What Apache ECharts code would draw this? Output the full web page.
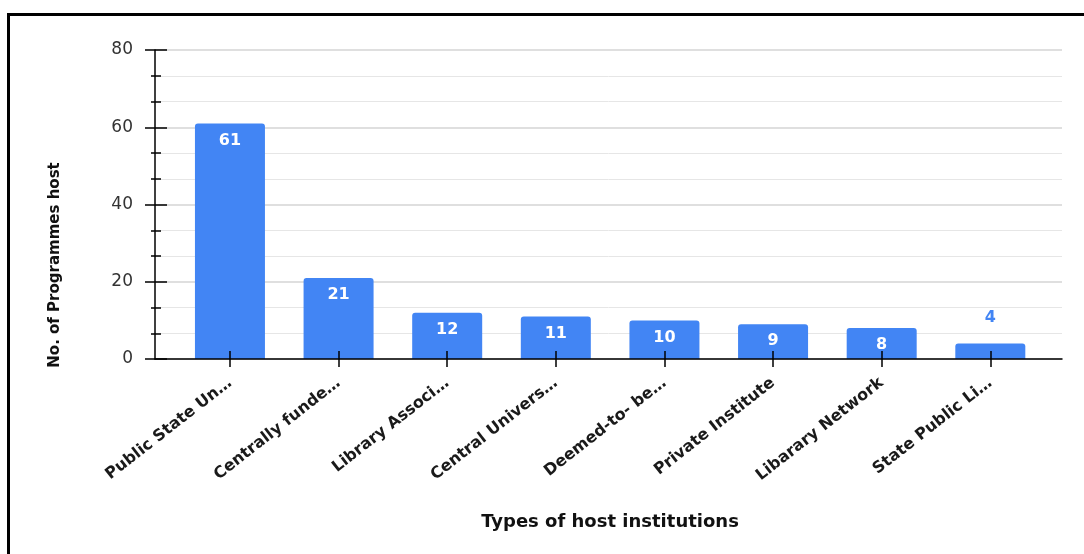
<!DOCTYPE html>
<html>
<head>
<meta charset="utf-8">
<script src="https://cdn.jsdelivr.net/npm/echarts@6/dist/echarts.min.js"></script>
<style>
  html, body { margin: 0; padding: 0; background: #fff; }
  #chart { width: 1084px; height: 554px; }
</style>
</head>
<body>
<div id="chart"></div>
<script>
// Host institution types (labels as shown, truncated) and programme counts
const categories = [
  'Public State Un…',
  'Centrally funde…',
  'Library Associ…',
  'Central Univers…',
  'Deemed-to- be…',
  'Private Institute',
  'Libarary Network',
  'State Public Li…'
];
const programmes = [61, 21, 12, 11, 10, 9, 8, 4];
const yTicks = [0, 20, 40, 60, 80];

const FONT = '"DejaVu Sans", Verdana, sans-serif';
const BLUE = '#4285F4';
const idx = categories.map((_, i) => i);

const chart = echarts.init(document.getElementById('chart'), null, { renderer: 'canvas' });

const barData = programmes.map((v, i) => {
  const item = { value: [i, v] };
  if (v < 6) {
    item.label = { position: 'top', distance: 18, color: BLUE };
  }
  return item;
});

const yCommon = {
  type: 'value',
  min: yTicks[0],
  max: yTicks[yTicks.length - 1],
  interval: yTicks[1] - yTicks[0]
};
const xCommon = {
  type: 'value',
  min: -0.69,
  max: categories.length - 1 + 0.66
};
const tickLine = { color: '#000', width: 1.5 };

chart.setOption({
  backgroundColor: '#fff',
  animation: false,
  grid: { left: 155, right: 22, top: 50, bottom: 195, containLabel: false },
  xAxis: [
    Object.assign({}, xCommon, {
      position: 'bottom',
      axisLine: { show: false, onZero: false },
      axisTick: { show: true, customValues: idx, length: 8, lineStyle: tickLine },
      axisLabel: {
        customValues: idx,
        formatter: v => categories[Math.round(v)],
        rotate: 38,
        margin: 22,
        color: '#1a1a1a',
        fontFamily: FONT,
        fontSize: 16,
        fontWeight: 'bold'
      },
      splitLine: { show: false }
    }),
    // axis line and upward tick halves, drawn above the bars
    Object.assign({}, xCommon, {
      position: 'bottom',
      offset: 0,
      z: 5,
      axisLine: { show: true, onZero: false, lineStyle: { color: '#000', width: 1.5 } },
      axisTick: { show: true, inside: true, customValues: idx, length: 8, lineStyle: tickLine },
      axisLabel: { show: false },
      splitLine: { show: false }
    })
  ],
  yAxis: [
    Object.assign({}, yCommon, {
      position: 'left',
      axisLine: { show: true, onZero: false, lineStyle: { color: '#000', width: 1.5 } },
      axisTick: { show: true, length: 10, lineStyle: tickLine },
      minorTick: { show: true, splitNumber: 3, length: 4, lineStyle: tickLine },
      axisLabel: { margin: 22, color: '#333', fontFamily: FONT, fontSize: 17 },
      splitLine: { show: true, lineStyle: { color: '#d4d4d4', width: 1.5 } },
      minorSplitLine: { show: true, lineStyle: { color: '#e6e6e6', width: 1 } }
    }),
    Object.assign({}, yCommon, {
      position: 'left',
      offset: 0,
      z: 5,
      axisLine: { show: false, onZero: false },
      axisTick: { show: true, inside: true, length: 12, lineStyle: tickLine },
      minorTick: { show: true, splitNumber: 3, length: 6, lineStyle: tickLine },
      axisLabel: { show: false },
      splitLine: { show: false }
    })
  ],
  series: [{
    type: 'bar',
    xAxisIndex: 0,
    yAxisIndex: 0,
    barWidth: 70,
    data: barData,
    itemStyle: { color: BLUE, borderRadius: [3, 3, 0, 0] },
    label: {
      show: true,
      position: 'insideTop',
      distance: 9,
      formatter: p => p.value[1],
      color: '#fff',
      fontFamily: FONT,
      fontSize: 16,
      fontWeight: 'bold'
    }
  }],
  graphic: [
    {
      type: 'rect',
      silent: true,
      shape: { x: 8.5, y: 14.5, width: 1200, height: 1000 },
      style: { fill: 'none', stroke: '#000', lineWidth: 3 }
    },
    {
      type: 'text',
      x: 55,
      y: 265,
      rotation: Math.PI / 2,
      style: {
        text: 'No. of Programmes host',
        font: 'bold 15px ' + FONT,
        fill: '#111',
        align: 'center',
        verticalAlign: 'middle'
      }
    },
    {
      type: 'text',
      x: 610,
      y: 522,
      style: {
        text: 'Types of host institutions',
        font: 'bold 18px ' + FONT,
        fill: '#111',
        align: 'center',
        verticalAlign: 'middle'
      }
    }
  ]
});
</script>
</body>
</html>
